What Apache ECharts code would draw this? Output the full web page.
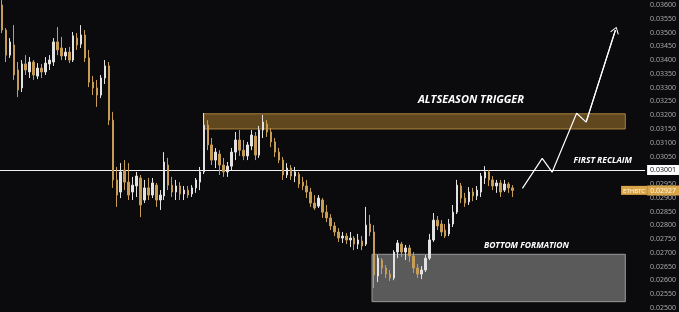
<!DOCTYPE html>
<html><head><meta charset="utf-8">
<script src="https://cdn.jsdelivr.net/npm/echarts@6/dist/echarts.min.js"></script>
<style>html,body{margin:0;padding:0;background:#0b0b0d;}#c{width:679px;height:312px;}</style>
</head><body><div id="c"></div><script>
const opens = [
0.03600,0.03509,0.03418,0.03455,0.03364,0.03299,0.03386,0.03357,0.03393,0.03342,
0.03371,0.03357,0.03386,0.03393,0.03466,0.03444,0.03415,0.03429,0.03400,0.03480,
0.03458,0.03491,0.03408,0.03320,0.03299,0.03273,0.03335,0.03379,0.03182,0.02965,
0.02921,0.03001,0.02957,0.02921,0.02943,0.02972,0.02892,0.02936,0.02910,0.02946,
0.02892,0.02907,0.03019,0.02946,0.02921,0.02943,0.02914,0.02928,0.02914,0.02936,
0.02957,0.02994,0.03164,0.03092,0.03037,0.03059,0.03019,0.02994,0.03015,0.03066,
0.03110,0.03073,0.03052,0.03088,0.03124,0.03055,0.03146,0.03168,0.03139,0.03103,
0.03066,0.03037,0.02983,0.03008,0.02979,0.02986,0.02957,0.02943,0.02921,0.02881,
0.02870,0.02892,0.02848,0.02827,0.02798,0.02776,0.02754,0.02761,0.02747,0.02754,
0.02732,0.02743,0.02732,0.02805,0.02776,0.02616,0.02674,0.02645,0.02623,0.02609,
0.02703,0.02732,0.02703,0.02718,0.02689,0.02645,0.02623,0.02638,0.02681,0.02747,
0.02819,0.02805,0.02783,0.02769,0.02805,0.02848,0.02943,0.02899,0.02885,0.02921,
0.02907,0.02921,0.02972,0.02994,0.02965,0.02943,0.02954,0.02928,0.02950,0.02936];
const closes = [
0.03509,0.03418,0.03466,0.03346,0.03291,0.03386,0.03364,0.03393,0.03346,0.03371,
0.03357,0.03389,0.03400,0.03466,0.03437,0.03415,0.03429,0.03400,0.03488,0.03455,
0.03491,0.03408,0.03320,0.03299,0.03273,0.03335,0.03379,0.03182,0.02965,0.02910,
0.02994,0.02957,0.02910,0.02946,0.02979,0.02874,0.02936,0.02910,0.02954,0.02892,
0.02910,0.03030,0.02946,0.02921,0.02943,0.02914,0.02928,0.02910,0.02936,0.02965,
0.02994,0.03164,0.03092,0.03037,0.03066,0.03019,0.02994,0.03015,0.03066,0.03110,
0.03073,0.03052,0.03092,0.03128,0.03055,0.03146,0.03175,0.03139,0.03103,0.03066,
0.03037,0.02983,0.03008,0.02979,0.02994,0.02950,0.02943,0.02921,0.02881,0.02863,
0.02899,0.02848,0.02827,0.02798,0.02776,0.02754,0.02761,0.02747,0.02754,0.02732,
0.02747,0.02725,0.02801,0.02776,0.02620,0.02681,0.02645,0.02623,0.02609,0.02703,
0.02736,0.02703,0.02718,0.02689,0.02645,0.02623,0.02638,0.02681,0.02747,0.02819,
0.02798,0.02776,0.02761,0.02805,0.02848,0.02946,0.02899,0.02881,0.02921,0.02907,
0.02928,0.02979,0.02994,0.02965,0.02943,0.02954,0.02921,0.02950,0.02936,0.02927];
const lows = [
0.03498,0.03393,0.03408,0.03328,0.03266,0.03284,0.03346,0.03335,0.03328,0.03331,
0.03335,0.03346,0.03364,0.03379,0.03418,0.03400,0.03400,0.03389,0.03393,0.03437,
0.03444,0.03393,0.03302,0.03273,0.03230,0.03262,0.03313,0.03164,0.02936,0.02867,
0.02899,0.02928,0.02892,0.02892,0.02903,0.02830,0.02881,0.02892,0.02899,0.02867,
0.02856,0.02892,0.02928,0.02903,0.02892,0.02892,0.02892,0.02899,0.02903,0.02918,
0.02928,0.02986,0.03073,0.03019,0.03008,0.02983,0.02976,0.02976,0.03001,0.03037,
0.03052,0.03037,0.03037,0.03073,0.03037,0.03045,0.03117,0.03121,0.03084,0.03048,
0.03026,0.02965,0.02972,0.02965,0.02957,0.02936,0.02928,0.02899,0.02867,0.02856,
0.02863,0.02827,0.02812,0.02783,0.02761,0.02740,0.02736,0.02732,0.02721,0.02710,
0.02714,0.02710,0.02725,0.02761,0.02573,0.02594,0.02623,0.02609,0.02598,0.02601,
0.02681,0.02685,0.02674,0.02667,0.02627,0.02609,0.02605,0.02631,0.02674,0.02740,
0.02783,0.02761,0.02754,0.02761,0.02794,0.02841,0.02881,0.02867,0.02874,0.02888,
0.02892,0.02903,0.02950,0.02943,0.02928,0.02918,0.02903,0.02921,0.02918,0.02903];
const highs = [
0.03618,0.03516,0.03480,0.03527,0.03393,0.03400,0.03418,0.03411,0.03400,0.03389,
0.03386,0.03411,0.03418,0.03480,0.03520,0.03484,0.03444,0.03448,0.03502,0.03498,
0.03527,0.03509,0.03437,0.03342,0.03328,0.03346,0.03400,0.03393,0.03212,0.03012,
0.03026,0.03037,0.03026,0.02976,0.02994,0.02983,0.02965,0.02972,0.02972,0.02954,
0.02928,0.03066,0.03045,0.02976,0.02965,0.02957,0.02943,0.02943,0.02946,0.02972,
0.03012,0.03208,0.03182,0.03117,0.03081,0.03073,0.03045,0.03030,0.03081,0.03139,
0.03146,0.03110,0.03103,0.03146,0.03139,0.03161,0.03201,0.03182,0.03153,0.03117,
0.03081,0.03048,0.03026,0.03019,0.03012,0.02994,0.02976,0.02965,0.02936,0.02910,
0.02910,0.02899,0.02874,0.02841,0.02812,0.02790,0.02776,0.02772,0.02776,0.02761,
0.02769,0.02761,0.02867,0.02838,0.02801,0.02692,0.02681,0.02656,0.02638,0.02710,
0.02747,0.02740,0.02729,0.02729,0.02703,0.02660,0.02652,0.02692,0.02769,0.02845,
0.02834,0.02819,0.02805,0.02823,0.02874,0.02965,0.02954,0.02918,0.02939,0.02936,
0.02943,0.02990,0.03015,0.03001,0.02979,0.02965,0.02965,0.02965,0.02957,0.02946];

const totalSlots = 163;
const categories = Array.from({length: totalSlots}, (_, i) => String(i));
const yMin = 0.025, yMax = 0.036, yStep = 0.0005;
const reclaimLevel = 0.03001;
const lastPrice = 0.02927;
const altZone = {x0: 51.0, x1: 157.5, y0: 0.03150, y1: 0.03205};
const bottomZone = {x0: 93.5, x1: 157.5, y0: 0.02523, y1: 0.02695};
const projX = [131.5, 136.5, 139.0, 145.2, 147.6, 155.0];
const projY = [0.02934, 0.03043, 0.02993, 0.03207, 0.03175, 0.03509];
const notes = [
  {name: 'ALTSEASON TRIGGER', x: 118.5, y: 0.03255, size: 11},
  {name: 'FIRST RECLAIM', x: 151.8, y: 0.03037, size: 8.5},
  {name: 'BOTTOM FORMATION', x: 132.5, y: 0.02726, size: 8.5}
];

const UP = '#e2e2e2', DOWN = '#c79d55';
const chart = echarts.init(document.getElementById('c'));
const n = projX.length;
chart.setOption({
  backgroundColor: '#0b0b0d',
  animation: false,
  grid: {left: 0, right: 28, top: 5, bottom: 4},
  xAxis: [
    {type: 'category', data: categories, show: false, boundaryGap: true},
    {type: 'value', min: -0.5, max: totalSlots - 0.5, show: false}
  ],
  yAxis: {
    type: 'value', position: 'right', min: yMin, max: yMax, interval: yStep,
    splitLine: {show: false}, axisLine: {show: false}, axisTick: {show: false},
    axisLabel: {color: '#a9a9a9', fontSize: 7, margin: 5, fontFamily: 'Noto Sans',
      formatter: v => v.toFixed(5)}
  },
  series: [
    {
      type: 'line', xAxisIndex: 1, data: [], z: 1, silent: true,
      markArea: {
        silent: true,
        data: [
          [{xAxis: altZone.x0, yAxis: altZone.y1,
            itemStyle: {color: 'rgba(150,108,42,0.62)', borderColor: '#a8823c', borderWidth: 1}},
           {xAxis: altZone.x1, yAxis: altZone.y0}],
          [{xAxis: bottomZone.x0, yAxis: bottomZone.y1,
            itemStyle: {color: 'rgba(120,120,120,0.72)', borderColor: '#9a9a9a', borderWidth: 1}},
           {xAxis: bottomZone.x1, yAxis: bottomZone.y0}]
        ]
      }
    },
    {
      type: 'candlestick', z: 5,
      barWidth: 2,
      data: opens.map((o, i) => [o, closes[i], lows[i], highs[i]]),
      itemStyle: {color: UP, color0: DOWN, borderColor: UP, borderColor0: DOWN, borderWidth: 1}
    },
    {
      type: 'line', xAxisIndex: 1, data: [], z: 12, silent: true,
      markLine: {
        silent: true, symbol: ['none', 'none'], precision: 5,
        lineStyle: {color: 'rgba(0,0,0,0)', width: 1, type: 'solid'},
        data: [
          {yAxis: lastPrice,
           label: {show: true, position: 'end', distance: -24,
             formatter: '{a|ETHBTC}{b|' + lastPrice.toFixed(5) + '}',
             rich: {
               a: {backgroundColor: '#d9a548', color: '#fff6e0', fontSize: 6, padding: [2, 2, 1, 2], fontFamily: 'Noto Sans'},
               b: {backgroundColor: '#d9a548', color: '#fff6e0', fontSize: 7, padding: [2, 3, 1, 3], fontFamily: 'Noto Sans'}
             }}}
        ]
      }
    },
    {
      type: 'line', xAxisIndex: 1, z: 10, silent: true,
      data: projX.map((x, i) => [x, projY[i]]),
      showSymbol: false, symbol: 'none',
      lineStyle: {color: '#ffffff', width: 1.2},
      markLine: {
        silent: true, symbol: ['none', 'none'], precision: 5,
        data: [
          {yAxis: reclaimLevel, lineStyle: {color: '#f2f2f2', width: 1.2, type: 'solid'},
           label: {show: true, position: 'end', distance: 2, formatter: reclaimLevel.toFixed(5),
             color: '#111', backgroundColor: '#ffffff', fontSize: 7, padding: [2, 3, 1, 3],
             fontFamily: 'Noto Sans'}},
          [{coord: [projX[n - 2], projY[n - 2]], symbol: 'none'},
           {coord: [projX[n - 1], projY[n - 1]],
            symbol: 'path://M5,0 L10,8 L9,8.8 L5,2 L1,8.8 L0,8 Z', symbolSize: [9, 7],
            lineStyle: {color: '#fff', width: 1.2, type: 'solid'}, label: {show: false}}]
        ]
      },
      markPoint: {
        silent: true, symbol: 'circle', symbolSize: 1,
        itemStyle: {color: 'rgba(0,0,0,0)'},
        data: notes.map(t => ({name: t.name, coord: [t.x, t.y],
          label: {show: true, position: 'inside', formatter: '{b}', color: '#ffffff',
            fontSize: t.size, fontWeight: 'bold', fontStyle: 'italic', fontFamily: 'Open Sans'}}))
      }
    }
  ]
});
</script></body></html>
